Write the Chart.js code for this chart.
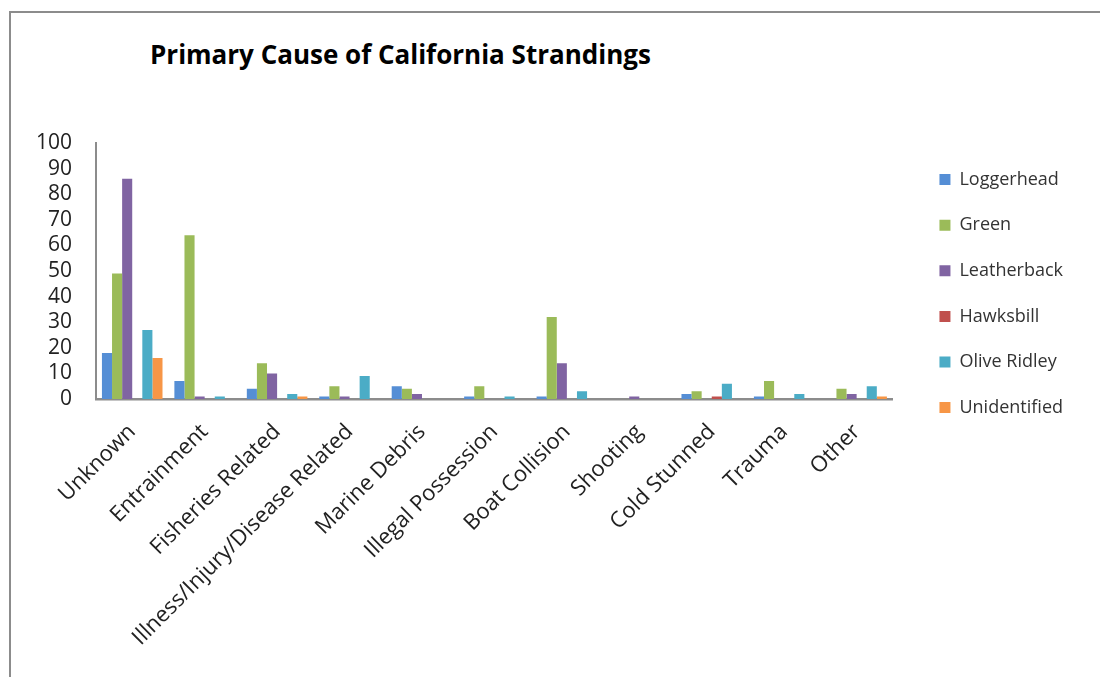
<!DOCTYPE html>
<html>
<head>
<meta charset="utf-8">
<script src="https://cdn.jsdelivr.net/npm/chart.js@4.4.1/dist/chart.umd.min.js"></script>
<style>
  html, body { margin: 0; padding: 0; background: #fff; overflow: hidden; }
  #wrap { position: relative; width: 1100px; height: 677px; }
  #frame {
    position: absolute; left: 9px; top: 11px; right: -5px; bottom: -5px;
    border-left: 2.5px solid #8c8c8c; border-top: 2.5px solid #8c8c8c;
  }
  #title {
    position: absolute; left: 150px; top: 41px;
    font: bold 26px "Open Sans", sans-serif; line-height: 26px; color: #000;
    white-space: nowrap;
  }
  canvas { position: absolute; left: 0; top: 0; }
</style>
</head>
<body>
<div id="wrap">
  <div id="frame"></div>
  <div id="title">Primary Cause of California Strandings</div>
  <canvas id="chart" width="1100" height="677"></canvas>
</div>
<script>
// categories (primary cause)
const causes = ["Unknown", "Entrainment", "Fisheries Related", "Illness/Injury/Disease Related",
  "Marine Debris", "Illegal Possession", "Boat Collision", "Shooting", "Cold Stunned", "Trauma", "Other"];

// counts per species
const loggerhead   = [18,  7,  4, 1, 5, 1,  1, 0, 2, 1, 0];
const green        = [49, 64, 14, 5, 4, 5, 32, 0, 3, 7, 4];
const leatherback  = [86,  1, 10, 1, 2, 0, 14, 1, 0, 0, 2];
const hawksbill    = [ 0,  0,  0, 0, 0, 0,  0, 0, 1, 0, 0];
const oliveRidley  = [27,  1,  2, 9, 0, 1,  3, 0, 6, 2, 5];
const unidentified = [16,  0,  1, 0, 0, 0,  0, 0, 0, 0, 1];

const yTicks = [0, 10, 20, 30, 40, 50, 60, 70, 80, 90, 100];

const fontFam = '"Open Sans", sans-serif';

function ds(label, data, color) {
    return { label: label, data: data, backgroundColor: color, borderWidth: 0 };
}

const ctx = document.getElementById("chart");
new Chart(ctx, {
    type: "bar",
    data: {
        labels: causes,
        datasets: [
            ds("Loggerhead", loggerhead, "#558ed5"),
            ds("Green", green, "#9bbb59"),
            ds("Leatherback", leatherback, "#8064a2"),
            ds("Hawksbill", hawksbill, "#c0504d"),
            ds("Olive Ridley", oliveRidley, "#4bacc6"),
            ds("Unidentified", unidentified, "#f79646"),
        ],
    },
    options: {
        responsive: false,
        animation: false,
        layout: { padding: { left: 10, top: 143, right: 27, bottom: 0 } },
        datasets: { bar: { categoryPercentage: 0.836, barPercentage: 1.0 } },
        plugins: {
            title: { display: false },
            tooltip: { enabled: false },
            legend: {
                position: "right",
                align: "start",
                labels: {
                    boxWidth: 11,
                    boxHeight: 11,
                    padding: 27.6,
                    color: "#333",
                    font: { family: fontFam, size: 18 },
                },
            },
        },
        scales: {
            x: {
                grid: { display: false, drawTicks: false },
                border: { color: "#8c8c8c", width: 2.5 },
                ticks: {
                    autoSkip: false,
                    minRotation: 45,
                    maxRotation: 45,
                    padding: 20,
                    color: "#222",
                    font: { family: fontFam, size: 22 },
                },
                afterFit: (s) => { s.height = 278; },
            },
            y: {
                min: 0,
                max: 100,
                grid: { display: false, drawTicks: false },
                border: { color: "#8c8c8c", width: 2 },
                afterBuildTicks: (s) => { s.ticks = yTicks.map(v => ({ value: v })); },
                ticks: {
                    autoSkip: false,
                    padding: 24,
                    color: "#222",
                    font: { family: fontFam, size: 21 },
                },
                afterFit: (s) => { s.width = 86; },
            },
            // empty axis, only keeps a gap between the plot and the legend
            gap: {
                type: "linear",
                position: "right",
                grid: { display: false, drawTicks: false },
                border: { display: false },
                ticks: { display: false },
                afterFit: (s) => { s.width = 19; },
            },
        },
    },
});
</script>
</body>
</html>
